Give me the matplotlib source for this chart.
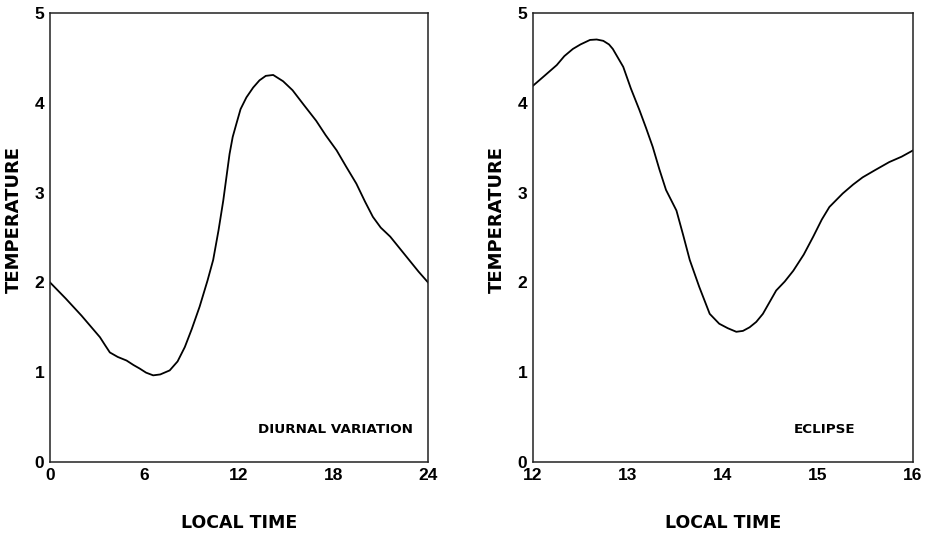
import matplotlib
matplotlib.use("Agg")
import matplotlib.pyplot as plt

# Diurnal variation (left panel)
diurnal_time = [0.0, 1.0, 2.0, 3.17, 3.5, 3.8, 4.3, 4.86, 5.3, 5.7, 6.1, 6.55, 7.0, 7.6,
                8.1, 8.56, 9.0, 9.5, 10.0, 10.36, 10.7, 11.0, 11.2, 11.4, 11.6, 11.84,
                12.1, 12.47, 12.9, 13.3, 13.7, 14.17, 14.8, 15.4, 16.1, 16.9, 17.5, 18.2,
                18.8, 19.45, 20.0, 20.5, 21.0, 21.6, 22.2, 22.8, 23.4, 24.0]
diurnal_temp = [2.0, 1.82, 1.63, 1.39, 1.30, 1.22, 1.17, 1.13, 1.08, 1.04, 0.995, 0.965,
                0.975, 1.02, 1.12, 1.28, 1.48, 1.73, 2.02, 2.25, 2.58, 2.91, 3.17, 3.43,
                3.62, 3.77, 3.93, 4.06, 4.17, 4.25, 4.30, 4.31, 4.24, 4.14, 3.98, 3.80,
                3.64, 3.47, 3.29, 3.10, 2.90, 2.73, 2.61, 2.51, 2.38, 2.25, 2.12, 2.0]

# Eclipse (right panel)
eclipse_time = [12.0, 12.12, 12.25, 12.33, 12.42, 12.5, 12.6, 12.67, 12.74, 12.8, 12.84,
                12.95, 13.03, 13.12, 13.19, 13.26, 13.33, 13.40, 13.51, 13.58, 13.65,
                13.75, 13.86, 13.96, 14.05, 14.14, 14.21, 14.28, 14.35, 14.42, 14.49,
                14.56, 14.65, 14.74, 14.85, 14.95, 15.04, 15.12, 15.26, 15.37, 15.47,
                15.6, 15.75, 15.88, 16.0]
eclipse_temp = [4.19, 4.30, 4.42, 4.52, 4.60, 4.65, 4.70, 4.705, 4.69, 4.65, 4.60, 4.40,
                4.16, 3.92, 3.72, 3.51, 3.26, 3.03, 2.80, 2.53, 2.25, 1.95, 1.65, 1.54,
                1.49, 1.45, 1.46, 1.50, 1.56, 1.65, 1.78, 1.91, 2.01, 2.13, 2.31, 2.51,
                2.70, 2.84, 2.99, 3.09, 3.17, 3.25, 3.34, 3.40, 3.47]

y_ticks = [0, 1, 2, 3, 4, 5]
left_xticks = [0, 6, 12, 18, 24]
right_xticks = [12, 13, 14, 15, 16]
panel_labels = ["DIURNAL VARIATION", "ECLIPSE"]
label_positions = [(13.2, 0.36), (14.74, 0.36)]

plt.rcParams['font.family'] = ['Liberation Sans', 'DejaVu Sans']

fig = plt.figure(figsize=(9.32, 5.51), dpi=100)
ax1 = fig.add_axes([50/932, 1-462/551, (428-50)/932, (462-13)/551])
ax2 = fig.add_axes([533/932, 1-462/551, (913-533)/932, (462-13)/551])

panels = [
    (ax1, diurnal_time, diurnal_temp, left_xticks, panel_labels[0], label_positions[0]),
    (ax2, eclipse_time, eclipse_temp, right_xticks, panel_labels[1], label_positions[1]),
]
for ax, xs, ys, xt, label, pos in panels:
    ax.plot(xs, ys, color='black', lw=1.3, solid_joinstyle='round')
    ax.set_xlim(xt[0], xt[-1])
    ax.set_ylim(0, 5)
    ax.set_xticks(xt)
    ax.set_yticks(y_ticks)
    ax.tick_params(length=0, labelsize=12.5, pad=4)
    for t in ax.get_xticklabels() + ax.get_yticklabels():
        t.set_fontweight('bold')
    for s in ax.spines.values():
        s.set_linewidth(1.1)
        s.set_color('#222222')
    ax.set_xlabel("LOCAL TIME", fontsize=12.5, fontweight='bold', family='DejaVu Sans')
    ax.xaxis.set_label_coords(0.5, -0.116)
    ax.set_ylabel("TEMPERATURE", fontsize=13, fontweight='bold', family='DejaVu Sans')
    ax.yaxis.set_label_coords(-0.071, 0.54)
    ax.text(pos[0], pos[1], label, ha='left', va='center',
            fontsize=9.7, fontweight='bold', family='DejaVu Sans')

fig.savefig("out.png", dpi=100, facecolor='white')
